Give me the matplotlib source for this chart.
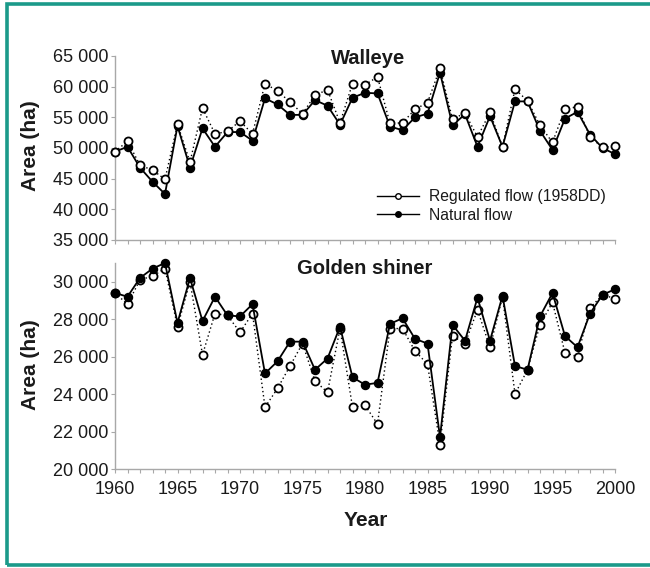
import matplotlib
matplotlib.use("Agg")
import matplotlib.pyplot as plt
from matplotlib.lines import Line2D
from matplotlib.patches import Rectangle
from matplotlib.ticker import FuncFormatter, MultipleLocator

plt.rcParams['font.family'] = ['Liberation Sans', 'DejaVu Sans']

years = list(range(1960, 2001))

walleye_regulated = [
    49400, 51100, 47200, 46400, 44900, 53900, 47700, 56500, 52300, 52700,
    54400, 52300, 60500, 59300, 57500, 55600, 58600, 59500, 54100, 60500,
    60300, 61600, 54000, 54100, 56300, 57400, 63000, 54700, 55700, 51800,
    55800, 50200, 59600, 57700, 53700, 50900, 56400, 56700, 51800, 50100,
    50300,
]
walleye_natural = [
    49400, 50200, 46800, 44500, 42500, 53600, 46800, 53200, 50200, 52600,
    52600, 51200, 58100, 57100, 55400, 55400, 57800, 56900, 53800, 58200,
    59000, 58900, 53500, 52900, 55000, 55600, 62300, 53700, 55500, 50200,
    55200, 50200, 57600, 57600, 52800, 49700, 54800, 55900, 52200, 50000,
    49000,
]

shiner_regulated = [
    29400, 28800, 30100, 30300, 30700, 27600, 30000, 26100, 28300, 28200,
    27300, 28300, 23300, 24300, 25500, 26700, 24700, 24100, 27500, 23300,
    23400, 22400, 27500, 27500, 26300, 25600, 21300, 27100, 26700, 28500,
    26500, 29200, 24000, 25300, 27700, 28900, 26200, 26000, 28600, 29300,
    29100,
]
shiner_natural = [
    29400, 29200, 30200, 30700, 31000, 27800, 30200, 27900, 29200, 28200,
    28150, 28800, 25100, 25750, 26800, 26800, 25300, 25900, 27600, 24900,
    24500, 24600, 27750, 28050, 26950, 26700, 21700, 27700, 26850, 29150,
    26850, 29250, 25500, 25300, 28150, 29400, 27100, 26500, 28300, 29300,
    29600,
]

series_labels = ["Regulated flow (1958DD)", "Natural flow"]
panel_titles = ["Walleye", "Golden shiner"]

W, H = 650, 568
fig = plt.figure(figsize=(W / 100, H / 100), dpi=100)

# teal frame (open on the right)
fig.patches.append(Rectangle((7 / W, 3 / H), 700 / W, (565 - 4) / H,
                             transform=fig.transFigure, fill=False,
                             edgecolor="#1b9a8a", linewidth=2.6,
                             clip_on=False))

left, right = 115 / W, 615 / W
ax1 = fig.add_axes([left, 1 - 240 / H, right - left, (240 - 56) / H])
ax2 = fig.add_axes([left, 1 - 469 / H, right - left, (469 - 263) / H])

spine_col = "#a8a8a8"
text_col = "#1a1a1a"


def style_axis(ax, ylim, ystep):
    ax.set_xlim(1960, 2000)
    ax.set_ylim(*ylim)
    for s in ("top", "right"):
        ax.spines[s].set_visible(False)
    for s in ("left", "bottom"):
        ax.spines[s].set_color(spine_col)
        ax.spines[s].set_linewidth(1.0)
    ax.xaxis.set_major_locator(MultipleLocator(5))
    ax.xaxis.set_minor_locator(MultipleLocator(1))
    ax.yaxis.set_major_locator(MultipleLocator(ystep))
    ax.yaxis.set_major_formatter(
        FuncFormatter(lambda v, p: f"{int(v):,}".replace(",", " ")))
    ax.tick_params(axis="both", which="both", direction="out",
                   color=spine_col, width=0.8, length=3,
                   labelsize=13, labelcolor=text_col, pad=1.5)
    ax.tick_params(axis="x", pad=6)
    ax.patch.set_alpha(0)


def draw(ax, regulated, natural, open_on_top):
    z_open, z_fill = (4, 3) if open_on_top else (3, 4)
    ax.plot(years, regulated, linestyle=(0, (1, 2)), color="black",
            linewidth=1.0, marker="o", markersize=5.8,
            markerfacecolor="white", markeredgecolor="black",
            markeredgewidth=1.3, zorder=z_open, clip_on=False)
    ax.plot(years, natural, linestyle="-", color="black", linewidth=1.3,
            marker="o", markersize=5.8, markerfacecolor="black",
            markeredgecolor="black", zorder=z_fill, clip_on=False)


draw(ax1, walleye_regulated, walleye_natural, True)
draw(ax2, shiner_regulated, shiner_natural, False)

style_axis(ax1, (35000, 65000), 5000)
style_axis(ax2, (20000, 31000), 2000)
ax1.tick_params(axis="x", labelbottom=False)

handles = [
    Line2D([], [], color="black", linewidth=1.0, marker="o", markersize=4,
           markerfacecolor="white", markeredgecolor="black",
           markeredgewidth=1.0),
    Line2D([], [], color="black", linewidth=1.0, marker="o", markersize=4,
           markerfacecolor="black", markeredgecolor="black"),
]
fig.legend(handles, series_labels, loc="center left",
           bbox_to_anchor=(377 / W, 1 - 206 / H), frameon=False,
           fontsize=11.3, handlelength=2.7, handletextpad=0.6,
           labelspacing=0.2, borderpad=0, borderaxespad=0,
           labelcolor=text_col)

fig.text(368 / W, 1 - 58 / H, panel_titles[0], ha="center", va="center",
         fontsize=14.5, fontweight="bold", color=text_col)
fig.text(365 / W, 1 - 268 / H, panel_titles[1], ha="center", va="center",
         fontsize=14.5, fontweight="bold", color=text_col)

fig.text(31 / W, 1 - 146 / H, "Area (ha)", rotation=90, ha="center",
         va="center", fontsize=15, fontweight="bold", color=text_col)
fig.text(31 / W, 1 - 365 / H, "Area (ha)", rotation=90, ha="center",
         va="center", fontsize=15, fontweight="bold", color=text_col)
fig.text(366 / W, 1 - 520 / H, "Year", ha="center", va="center",
         fontsize=15, fontweight="bold", color=text_col)

fig.savefig("out.png", dpi=100, facecolor="white")
